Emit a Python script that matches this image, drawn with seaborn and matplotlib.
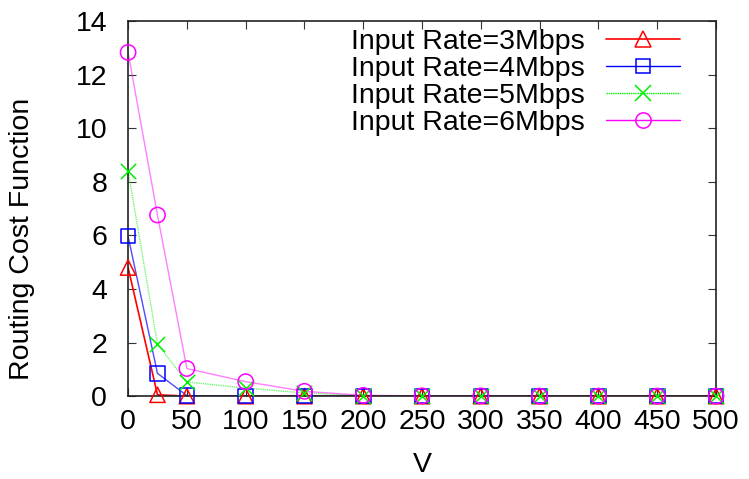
import numpy as np
import pandas as pd
import matplotlib
matplotlib.use("Agg")
import matplotlib.pyplot as plt
import seaborn as sns
from matplotlib.lines import Line2D

# ---- data ----
v_values = [0, 25, 50, 100, 150, 200, 250, 300, 350, 400, 450, 500]
rate3 = [4.8, 0.05, 0.0, 0.0, 0.0, 0.0, 0.0, 0.0, 0.0, 0.0, 0.0, 0.0]
rate4 = [5.97, 0.85, 0.02, 0.0, 0.0, 0.0, 0.0, 0.0, 0.0, 0.0, 0.0, 0.0]
rate5 = [8.42, 1.94, 0.53, 0.3, 0.12, 0.02, 0.01, 0.0, 0.0, 0.0, 0.0, 0.0]
rate6 = [12.83, 6.76, 1.03, 0.54, 0.18, 0.03, 0.01, 0.01, 0.0, 0.0, 0.0, 0.0]
series_labels = ["Input Rate=3Mbps", "Input Rate=4Mbps",
                 "Input Rate=5Mbps", "Input Rate=6Mbps"]
x_ticks = [0, 50, 100, 150, 200, 250, 300, 350, 400, 450, 500]
y_ticks = [0, 2, 4, 6, 8, 10, 12, 14]

df = pd.DataFrame({
    "V": v_values * 4,
    "cost": rate3 + rate4 + rate5 + rate6,
    "series": sum([[lab] * len(v_values) for lab in series_labels], []),
})

sns.set_style("ticks")
plt.rcParams["font.family"] = ["Liberation Sans", "DejaVu Sans"]
plt.rcParams["text.color"] = "black"
plt.rcParams["axes.labelcolor"] = "black"
plt.rcParams["xtick.color"] = "black"
plt.rcParams["ytick.color"] = "black"

FS = 20.5

fig = plt.figure(figsize=(7.49, 4.79), dpi=100)
ax = fig.add_axes([0.171, 0.173, 0.785, 0.783])

styles = [
    dict(color="#ff0000", marker="^", ms=11, lw=1.2, ls="-", alpha_line=1.0),
    dict(color="#0000ff", marker="s", ms=10.5, lw=1.0, ls="-", alpha_line=0.7),
    dict(color="#00ee00", marker="x", ms=11, lw=1.0, ls=(0, (1, 0.6)), alpha_line=0.55),
    dict(color="#ff00ff", marker="o", ms=11, lw=1.0, ls="-", alpha_line=0.5),
]

handles = []
for lab, st in zip(series_labels, styles):
    sub = df[df["series"] == lab]
    sns.lineplot(data=sub, x="V", y="cost", ax=ax, color=st["color"],
                 lw=st["lw"], ls=st["ls"], alpha=st["alpha_line"],
                 legend=False, errorbar=None, sort=False)
    sns.scatterplot(data=sub, x="V", y="cost", ax=ax, marker=st["marker"],
                    s=st["ms"] ** 2,
                    facecolor="none" if st["marker"] != "x" else st["color"],
                    edgecolor=st["color"], linewidth=1.1, legend=False,
                    zorder=5, clip_on=False)
    handles.append(Line2D([0], [0], color=st["color"], lw=st["lw"], ls=st["ls"],
                          alpha=1.0, marker=st["marker"], ms=st["ms"],
                          mfc="none", mec=st["color"], mew=1.1))

ax.set_xlim(0, 500)
ax.set_ylim(0, 14)
ax.set_xticks(x_ticks)
ax.set_yticks(y_ticks)
ax.tick_params(direction="in", top=True, right=True, length=6, width=0.8,
               labelsize=FS, color="#333333")
ax.tick_params(axis="y", pad=15)
ax.tick_params(axis="x", pad=9)
for sp in ax.spines.values():
    sp.set_visible(True)
    sp.set_color("#222222")
    sp.set_linewidth(1.2)
ax.set_xlabel("V", fontsize=FS)
ax.set_ylabel("Routing Cost Function", fontsize=FS)
ax.yaxis.set_label_coords(-0.158, 0.42)
ax.xaxis.set_label_coords(0.5, -0.149)

leg = ax.legend(handles, series_labels, loc="upper right", frameon=False,
                markerfirst=False, fontsize=FS, handlelength=2.6,
                labelspacing=0.03, handletextpad=0.75,
                borderaxespad=0.0, bbox_to_anchor=(0.958, 1.008))

fig.savefig("out.png", dpi=100)
